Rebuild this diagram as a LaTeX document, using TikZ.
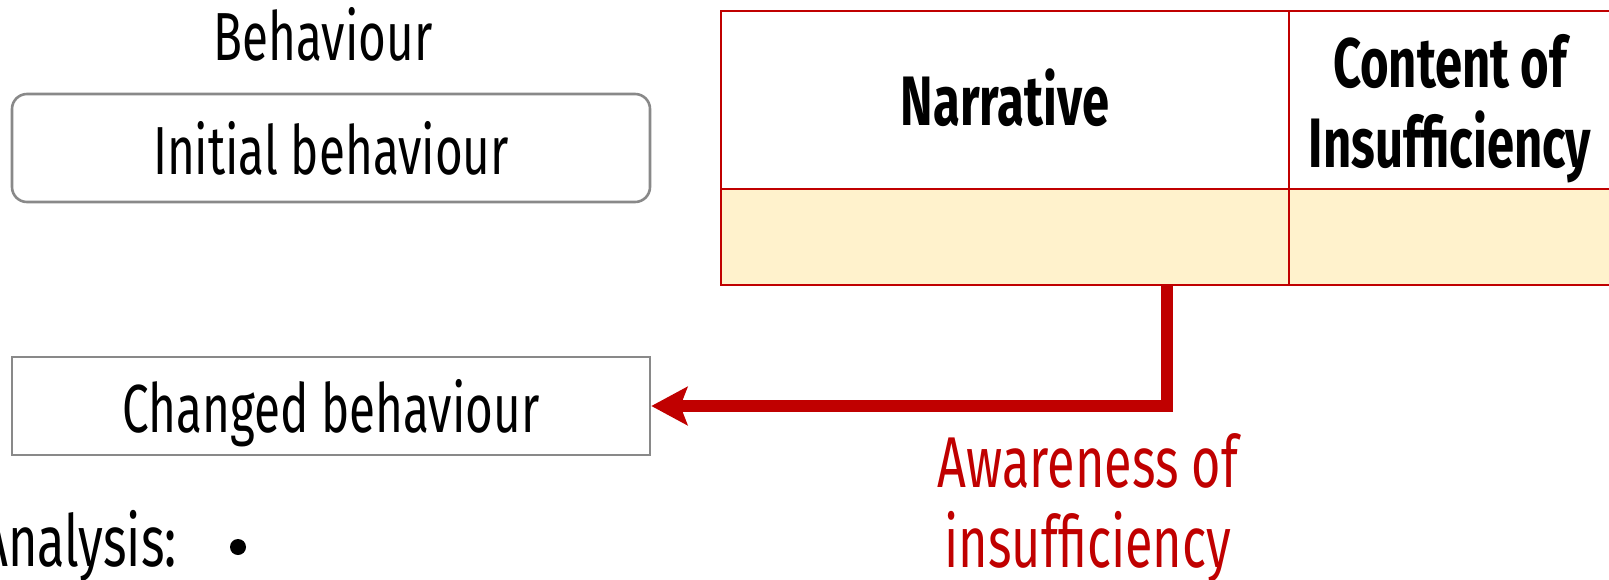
\documentclass[tikz,border=0pt]{standalone}
\usepackage{fontspec}
\setmainfont{Fira Sans}[FakeStretch=0.7]
\usetikzlibrary{arrows.meta}
\definecolor{darkred}{HTML}{C00000}
\definecolor{boxgray}{HTML}{898989}
\definecolor{cellfill}{HTML}{FFF2CC}
\begin{document}
\begin{tikzpicture}[x=0.5pt,y=-0.5pt,
  plaintext/.style={inner sep=0pt, anchor=base, font=\fontsize{34}{40}\selectfont},
  headtext/.style={plaintext, font=\fontsize{35}{40}\selectfont\bfseries},
  behbox/.style={draw=boxgray, line width=1.3pt, minimum width=319pt,
    inner sep=0pt, text height=26pt, text depth=0pt,
    font=\fontsize{34}{40}\selectfont},
  cell/.style={draw=darkred, line width=1pt, inner sep=0pt},
  arrowline/.style={draw=darkred, line width=6pt, line join=miter,
    -{Stealth[length=18pt,width=19pt,inset=3.5pt]}}
]
\useasboundingbox (0,0) rectangle (1609,579);
\clip (0,0) rectangle (1609,579);

% left column: behaviour boxes
\node[plaintext] (behhead) at (323,60) {Behaviour};
\node[behbox, rounded corners=7.5pt, minimum height=54pt] (init) at (331,148) {Initial behaviour};
\node[behbox, minimum height=49pt] (chg) at (331,406) {Changed behaviour};
\node[plaintext, anchor=base east, font=\fontsize{36}{42}\selectfont] (analysis) at (177,566) {Analysis:};
\node[circle, fill=black, minimum size=8pt, inner sep=0pt] (bullet) at (238,547) {};

% table
\node[cell, minimum width=284pt, minimum height=89pt] (narrhead) at (1005,100) {};
\node[cell, minimum width=161pt, minimum height=89pt] (conthead) at (1450,100) {};
\node[cell, fill=cellfill, minimum width=284pt, minimum height=48pt] (narrrow) at (1005,237) {};
\node[cell, fill=cellfill, minimum width=161pt, minimum height=48pt] (controw) at (1450,237) {};
\node[headtext] (narrtext) at (1005,125) {Narrative};
\node[headtext] (conttext1) at (1450,87) {Content of};
\node[headtext] (conttext2) at (1450,167) {Insufficiency};

% feedback arrow
\coordinate (turn) at (1167,407);
\draw[arrowline] (turn |- narrrow.south) |- (chg.east);
\node[plaintext, text=darkred, font=\fontsize{36}{42}\selectfont] (aware1) at (1088,487) {Awareness of};
\node[plaintext, text=darkred, font=\fontsize{36}{42}\selectfont] (aware2) at (1088,567) {insufficiency};
\end{tikzpicture}
\end{document}
